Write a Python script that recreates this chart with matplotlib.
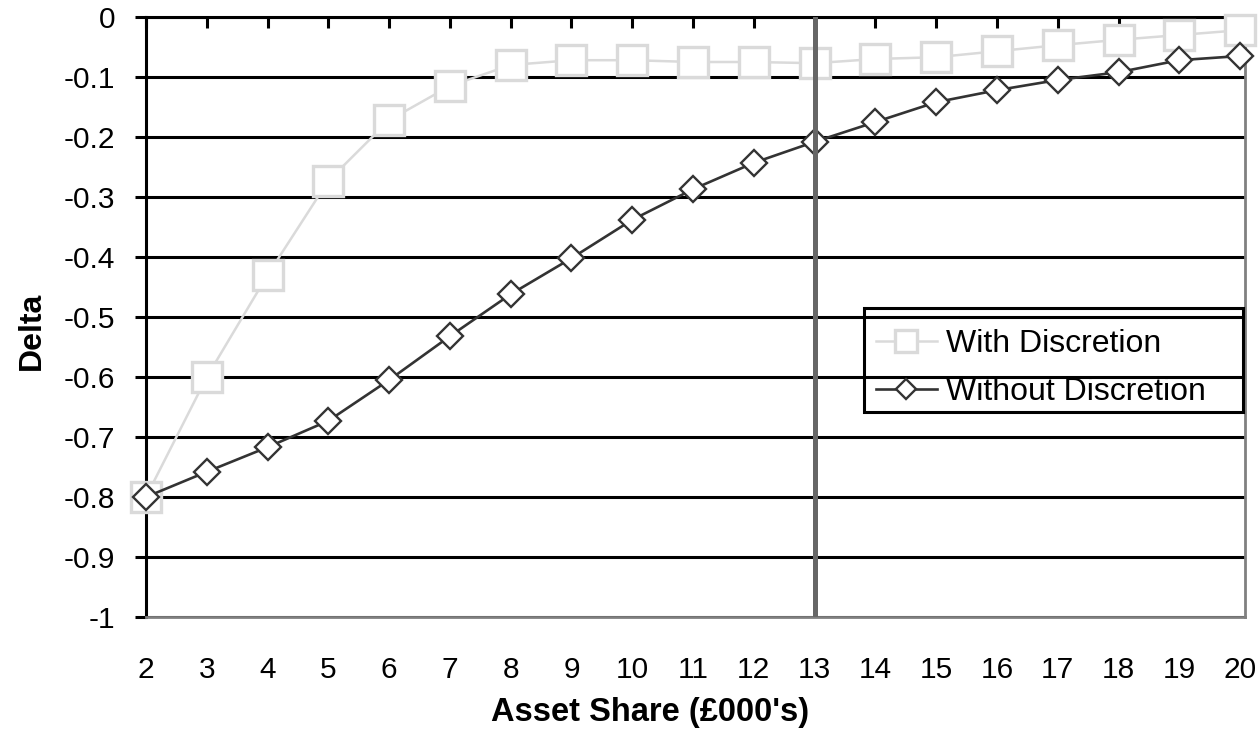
import matplotlib
matplotlib.use("Agg")
import matplotlib.pyplot as plt
from matplotlib.patches import Rectangle

plt.rcParams['font.family'] = ['Liberation Sans', 'DejaVu Sans']
plt.rcParams['axes.unicode_minus'] = False

asset_share = [2, 3, 4, 5, 6, 7, 8, 9, 10, 11, 12, 13, 14, 15, 16, 17, 18, 19, 20]
with_discretion = [-0.80, -0.60, -0.43, -0.273, -0.172, -0.115, -0.080, -0.072, -0.072,
                   -0.075, -0.075, -0.077, -0.070, -0.067, -0.057, -0.047, -0.038, -0.030, -0.022]
without_discretion = [-0.80, -0.758, -0.717, -0.673, -0.605, -0.532, -0.462, -0.402, -0.338,
                      -0.287, -0.243, -0.208, -0.175, -0.142, -0.122, -0.105, -0.092, -0.072, -0.065]
y_ticks = [0, -0.1, -0.2, -0.3, -0.4, -0.5, -0.6, -0.7, -0.8, -0.9, -1]
y_tick_labels = ['0', '-0.1', '-0.2', '-0.3', '-0.4', '-0.5', '-0.6', '-0.7', '-0.8', '-0.9', '-1']
marker_line_x = 13

W, H = 1259, 753
fig = plt.figure(figsize=(W/100, H/100), dpi=100)
ax = fig.add_axes([146/W, 1-617/H, (1245-146)/W, (617-17)/H])

ax.plot(asset_share, with_discretion, color='#dadada', lw=1.8, marker='s', ms=21,
        mfc='white', mec='#dadada', mew=2.4, clip_on=False, zorder=3, label='With Discretion')
ax.plot(asset_share, without_discretion, color='#333333', lw=1.9, marker='D', ms=13.5,
        mfc='white', mec='#333333', mew=1.7, clip_on=False, zorder=4, label='Without Discretion')
ax.axvline(marker_line_x, color='#666666', lw=3.6, zorder=5)

ax.set_xlim(asset_share[0], asset_share[-1] + 0.08)
ax.set_ylim(-1, 0)
ax.set_xticks(asset_share)
ax.set_xticklabels([str(v) for v in asset_share], fontsize=21.5)
ax.set_yticks(y_ticks)
ax.set_yticklabels(y_tick_labels, fontsize=21.5)

ax.yaxis.grid(True, color='black', lw=2.2, zorder=1)
ax.set_axisbelow(True)

ax.tick_params(axis='y', direction='out', length=8, width=2.2, pad=14, color='black')
ax.tick_params(axis='x', bottom=False, top=True, direction='in', length=8, width=2.2,
               pad=28, labelbottom=True, labeltop=False)

for s in ['left', 'top']:
    ax.spines[s].set_color('black')
    ax.spines[s].set_linewidth(2.2)
for s in ['right', 'bottom']:
    ax.spines[s].set_color('#808080')
    ax.spines[s].set_linewidth(2.0)

fig.text(32/W, 1-331/H, 'Delta', rotation=90, fontsize=23, fontweight='bold',
         ha='center', va='center')
fig.text(650/W, 1-713/H, "Asset Share (£000's)", fontsize=23.5, fontweight='bold',
         ha='center', va='center')

leg = ax.legend(loc='center left', bbox_to_anchor=(876/W, 1-368/H),
                bbox_transform=fig.transFigure, fontsize=23, frameon=False,
                borderaxespad=0, borderpad=0, handlelength=1.9, handletextpad=0.28,
                labelspacing=0.58, markerscale=0.75)
leg.set_zorder(6)
fig.patches.append(Rectangle((864/W, 1-412/H), (1243-864)/W, (412-308)/H,
                             transform=fig.transFigure, fill=False, edgecolor='black',
                             linewidth=2.2, zorder=7))

fig.savefig('out.png', dpi=100)
